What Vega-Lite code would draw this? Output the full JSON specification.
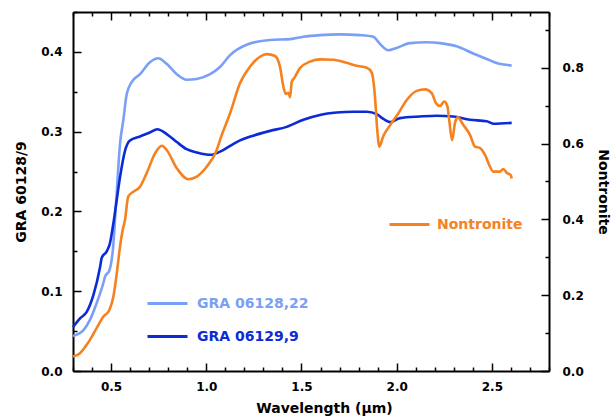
{
  "$schema": "https://vega.github.io/schema/vega-lite/v6.json",
  "width": 476,
  "height": 359,
  "autosize": {"type": "none"},
  "padding": {"left": 73, "top": 12, "right": 66, "bottom": 46},
  "background": "white",
  "config": {
    "view": {"stroke": null},
    "font": "DejaVu Sans",
    "axis": {
      "domainColor": "black",
      "domainWidth": 2,
      "tickColor": "black",
      "tickWidth": 1.5,
      "labelFont": "DejaVu Sans",
      "labelFontWeight": "bold",
      "labelFontSize": 12,
      "labelColor": "black",
      "titleFont": "DejaVu Sans",
      "titleFontWeight": "bold",
      "titleFontSize": 14,
      "titleColor": "black",
      "grid": false,
      "labelFlush": false,
      "labelOverlap": false
    },
    "legend": {
      "labelFont": "DejaVu Sans",
      "labelFontWeight": "bold",
      "labelFontSize": 14,
      "labelLimit": 300,
      "padding": 0
    }
  },
  "datasets": {
    "gra": [
      {"series": "GRA 06128,22", "wl": 0.300, "r": 0.044},
      {"series": "GRA 06128,22", "wl": 0.354, "r": 0.051},
      {"series": "GRA 06128,22", "wl": 0.389, "r": 0.064},
      {"series": "GRA 06128,22", "wl": 0.424, "r": 0.085},
      {"series": "GRA 06128,22", "wl": 0.459, "r": 0.110},
      {"series": "GRA 06128,22", "wl": 0.468, "r": 0.118},
      {"series": "GRA 06128,22", "wl": 0.491, "r": 0.126},
      {"series": "GRA 06128,22", "wl": 0.509, "r": 0.151},
      {"series": "GRA 06128,22", "wl": 0.530, "r": 0.225},
      {"series": "GRA 06128,22", "wl": 0.547, "r": 0.285},
      {"series": "GRA 06128,22", "wl": 0.564, "r": 0.314},
      {"series": "GRA 06128,22", "wl": 0.582, "r": 0.347},
      {"series": "GRA 06128,22", "wl": 0.608, "r": 0.362},
      {"series": "GRA 06128,22", "wl": 0.652, "r": 0.372},
      {"series": "GRA 06128,22", "wl": 0.704, "r": 0.387},
      {"series": "GRA 06128,22", "wl": 0.748, "r": 0.392},
      {"series": "GRA 06128,22", "wl": 0.792, "r": 0.385},
      {"series": "GRA 06128,22", "wl": 0.845, "r": 0.372},
      {"series": "GRA 06128,22", "wl": 0.897, "r": 0.365},
      {"series": "GRA 06128,22", "wl": 0.950, "r": 0.366},
      {"series": "GRA 06128,22", "wl": 1.020, "r": 0.372},
      {"series": "GRA 06128,22", "wl": 1.072, "r": 0.381},
      {"series": "GRA 06128,22", "wl": 1.125, "r": 0.396},
      {"series": "GRA 06128,22", "wl": 1.212, "r": 0.409},
      {"series": "GRA 06128,22", "wl": 1.335, "r": 0.415},
      {"series": "GRA 06128,22", "wl": 1.440, "r": 0.416},
      {"series": "GRA 06128,22", "wl": 1.510, "r": 0.419},
      {"series": "GRA 06128,22", "wl": 1.597, "r": 0.421},
      {"series": "GRA 06128,22", "wl": 1.702, "r": 0.422},
      {"series": "GRA 06128,22", "wl": 1.807, "r": 0.421},
      {"series": "GRA 06128,22", "wl": 1.877, "r": 0.419},
      {"series": "GRA 06128,22", "wl": 1.912, "r": 0.410},
      {"series": "GRA 06128,22", "wl": 1.956, "r": 0.402},
      {"series": "GRA 06128,22", "wl": 2.000, "r": 0.405},
      {"series": "GRA 06128,22", "wl": 2.070, "r": 0.411},
      {"series": "GRA 06128,22", "wl": 2.158, "r": 0.412},
      {"series": "GRA 06128,22", "wl": 2.228, "r": 0.411},
      {"series": "GRA 06128,22", "wl": 2.315, "r": 0.407},
      {"series": "GRA 06128,22", "wl": 2.402, "r": 0.398},
      {"series": "GRA 06128,22", "wl": 2.473, "r": 0.391},
      {"series": "GRA 06128,22", "wl": 2.525, "r": 0.386},
      {"series": "GRA 06128,22", "wl": 2.604, "r": 0.383},
      {"series": "GRA 06129,9", "wl": 0.300, "r": 0.055},
      {"series": "GRA 06129,9", "wl": 0.337, "r": 0.066},
      {"series": "GRA 06129,9", "wl": 0.372, "r": 0.074},
      {"series": "GRA 06129,9", "wl": 0.407, "r": 0.095},
      {"series": "GRA 06129,9", "wl": 0.442, "r": 0.130},
      {"series": "GRA 06129,9", "wl": 0.451, "r": 0.142},
      {"series": "GRA 06129,9", "wl": 0.477, "r": 0.150},
      {"series": "GRA 06129,9", "wl": 0.494, "r": 0.160},
      {"series": "GRA 06129,9", "wl": 0.512, "r": 0.185},
      {"series": "GRA 06129,9", "wl": 0.530, "r": 0.215},
      {"series": "GRA 06129,9", "wl": 0.547, "r": 0.243},
      {"series": "GRA 06129,9", "wl": 0.573, "r": 0.276},
      {"series": "GRA 06129,9", "wl": 0.599, "r": 0.289},
      {"series": "GRA 06129,9", "wl": 0.652, "r": 0.294},
      {"series": "GRA 06129,9", "wl": 0.704, "r": 0.299},
      {"series": "GRA 06129,9", "wl": 0.743, "r": 0.303},
      {"series": "GRA 06129,9", "wl": 0.792, "r": 0.297},
      {"series": "GRA 06129,9", "wl": 0.845, "r": 0.287},
      {"series": "GRA 06129,9", "wl": 0.897, "r": 0.278},
      {"series": "GRA 06129,9", "wl": 0.950, "r": 0.274},
      {"series": "GRA 06129,9", "wl": 1.020, "r": 0.271},
      {"series": "GRA 06129,9", "wl": 1.072, "r": 0.275},
      {"series": "GRA 06129,9", "wl": 1.110, "r": 0.280},
      {"series": "GRA 06129,9", "wl": 1.160, "r": 0.287},
      {"series": "GRA 06129,9", "wl": 1.247, "r": 0.295},
      {"series": "GRA 06129,9", "wl": 1.335, "r": 0.301},
      {"series": "GRA 06129,9", "wl": 1.422, "r": 0.306},
      {"series": "GRA 06129,9", "wl": 1.510, "r": 0.315},
      {"series": "GRA 06129,9", "wl": 1.597, "r": 0.321},
      {"series": "GRA 06129,9", "wl": 1.685, "r": 0.324},
      {"series": "GRA 06129,9", "wl": 1.772, "r": 0.325},
      {"series": "GRA 06129,9", "wl": 1.843, "r": 0.325},
      {"series": "GRA 06129,9", "wl": 1.895, "r": 0.322},
      {"series": "GRA 06129,9", "wl": 1.930, "r": 0.316},
      {"series": "GRA 06129,9", "wl": 1.965, "r": 0.312},
      {"series": "GRA 06129,9", "wl": 2.017, "r": 0.317},
      {"series": "GRA 06129,9", "wl": 2.122, "r": 0.319},
      {"series": "GRA 06129,9", "wl": 2.210, "r": 0.320},
      {"series": "GRA 06129,9", "wl": 2.297, "r": 0.319},
      {"series": "GRA 06129,9", "wl": 2.385, "r": 0.315},
      {"series": "GRA 06129,9", "wl": 2.473, "r": 0.313},
      {"series": "GRA 06129,9", "wl": 2.507, "r": 0.310},
      {"series": "GRA 06129,9", "wl": 2.604, "r": 0.311}
    ],
    "non": [
      {"series": "Nontronite", "wl": 0.300, "r": 0.038},
      {"series": "Nontronite", "wl": 0.337, "r": 0.047},
      {"series": "Nontronite", "wl": 0.363, "r": 0.063},
      {"series": "Nontronite", "wl": 0.389, "r": 0.082},
      {"series": "Nontronite", "wl": 0.424, "r": 0.113},
      {"series": "Nontronite", "wl": 0.459, "r": 0.143},
      {"series": "Nontronite", "wl": 0.491, "r": 0.161},
      {"series": "Nontronite", "wl": 0.512, "r": 0.196},
      {"series": "Nontronite", "wl": 0.530, "r": 0.258},
      {"series": "Nontronite", "wl": 0.547, "r": 0.328},
      {"series": "Nontronite", "wl": 0.561, "r": 0.372},
      {"series": "Nontronite", "wl": 0.573, "r": 0.398},
      {"series": "Nontronite", "wl": 0.590, "r": 0.460},
      {"series": "Nontronite", "wl": 0.617, "r": 0.473},
      {"series": "Nontronite", "wl": 0.652, "r": 0.486},
      {"series": "Nontronite", "wl": 0.687, "r": 0.522},
      {"series": "Nontronite", "wl": 0.731, "r": 0.574},
      {"series": "Nontronite", "wl": 0.766, "r": 0.594},
      {"series": "Nontronite", "wl": 0.792, "r": 0.583},
      {"series": "Nontronite", "wl": 0.845, "r": 0.535},
      {"series": "Nontronite", "wl": 0.906, "r": 0.506},
      {"series": "Nontronite", "wl": 0.950, "r": 0.513},
      {"series": "Nontronite", "wl": 1.002, "r": 0.539},
      {"series": "Nontronite", "wl": 1.055, "r": 0.583},
      {"series": "Nontronite", "wl": 1.072, "r": 0.609},
      {"series": "Nontronite", "wl": 1.125, "r": 0.680},
      {"series": "Nontronite", "wl": 1.177, "r": 0.759},
      {"series": "Nontronite", "wl": 1.230, "r": 0.803},
      {"series": "Nontronite", "wl": 1.282, "r": 0.829},
      {"series": "Nontronite", "wl": 1.317, "r": 0.836},
      {"series": "Nontronite", "wl": 1.361, "r": 0.831},
      {"series": "Nontronite", "wl": 1.387, "r": 0.803},
      {"series": "Nontronite", "wl": 1.405, "r": 0.750},
      {"series": "Nontronite", "wl": 1.417, "r": 0.731},
      {"series": "Nontronite", "wl": 1.431, "r": 0.734},
      {"series": "Nontronite", "wl": 1.440, "r": 0.722},
      {"series": "Nontronite", "wl": 1.449, "r": 0.763},
      {"series": "Nontronite", "wl": 1.461, "r": 0.772},
      {"series": "Nontronite", "wl": 1.492, "r": 0.799},
      {"series": "Nontronite", "wl": 1.545, "r": 0.816},
      {"series": "Nontronite", "wl": 1.597, "r": 0.822},
      {"series": "Nontronite", "wl": 1.667, "r": 0.821},
      {"series": "Nontronite", "wl": 1.737, "r": 0.813},
      {"series": "Nontronite", "wl": 1.790, "r": 0.805},
      {"series": "Nontronite", "wl": 1.843, "r": 0.800},
      {"series": "Nontronite", "wl": 1.869, "r": 0.787},
      {"series": "Nontronite", "wl": 1.886, "r": 0.724},
      {"series": "Nontronite", "wl": 1.898, "r": 0.636},
      {"series": "Nontronite", "wl": 1.909, "r": 0.592},
      {"series": "Nontronite", "wl": 1.930, "r": 0.620},
      {"series": "Nontronite", "wl": 1.965, "r": 0.648},
      {"series": "Nontronite", "wl": 2.009, "r": 0.680},
      {"series": "Nontronite", "wl": 2.053, "r": 0.715},
      {"series": "Nontronite", "wl": 2.105, "r": 0.739},
      {"series": "Nontronite", "wl": 2.149, "r": 0.743},
      {"series": "Nontronite", "wl": 2.184, "r": 0.733},
      {"series": "Nontronite", "wl": 2.207, "r": 0.706},
      {"series": "Nontronite", "wl": 2.228, "r": 0.699},
      {"series": "Nontronite", "wl": 2.249, "r": 0.711},
      {"series": "Nontronite", "wl": 2.266, "r": 0.699},
      {"series": "Nontronite", "wl": 2.276, "r": 0.662},
      {"series": "Nontronite", "wl": 2.291, "r": 0.609},
      {"series": "Nontronite", "wl": 2.306, "r": 0.654},
      {"series": "Nontronite", "wl": 2.320, "r": 0.669},
      {"series": "Nontronite", "wl": 2.350, "r": 0.649},
      {"series": "Nontronite", "wl": 2.385, "r": 0.623},
      {"series": "Nontronite", "wl": 2.411, "r": 0.592},
      {"series": "Nontronite", "wl": 2.438, "r": 0.588},
      {"series": "Nontronite", "wl": 2.464, "r": 0.570},
      {"series": "Nontronite", "wl": 2.490, "r": 0.539},
      {"series": "Nontronite", "wl": 2.507, "r": 0.526},
      {"series": "Nontronite", "wl": 2.543, "r": 0.526},
      {"series": "Nontronite", "wl": 2.560, "r": 0.533},
      {"series": "Nontronite", "wl": 2.578, "r": 0.523},
      {"series": "Nontronite", "wl": 2.599, "r": 0.517},
      {"series": "Nontronite", "wl": 2.604, "r": 0.508}
    ]
  },
  "layer": [
    {
      "data": {"name": "gra"},
      "mark": {"type": "line", "strokeWidth": 2.6, "interpolate": "monotone"},
      "encoding": {
        "x": {
          "field": "wl", "type": "quantitative",
          "scale": {"domain": [0.3, 2.8], "nice": false, "zero": false},
          "axis": {
            "orient": "bottom",
            "title": "Wavelength (µm)",
            "titleX": 251,
            "values": [0.3,0.4,0.5,0.6,0.7,0.8,0.9,1.0,1.1,1.2,1.3,1.4,1.5,1.6,1.7,1.8,1.9,2.0,2.1,2.2,2.3,2.4,2.5,2.6,2.7,2.8],
            "labelExpr": "abs(round(datum.value*2) - datum.value*2) < 0.001 ? format(datum.value, '.1f') : ''",
            "tickSize": {"condition": {"test": "abs(round(datum.value*2) - datum.value*2) < 0.001", "value": -8}, "value": -4},
            "labelPadding": 18,
            "titlePadding": 5
          }
        },
        "y": {
          "field": "r", "type": "quantitative",
          "scale": {"domain": [0, 0.45], "nice": false},
          "axis": {
            "orient": "left",
            "title": "GRA 60128/9",
            "values": [0,0.05,0.1,0.15,0.2,0.25,0.3,0.35,0.4,0.45],
            "labelExpr": "abs(round(datum.value*10) - datum.value*10) < 0.001 ? format(datum.value, '.1f') : ''",
            "tickSize": {"condition": {"test": "abs(round(datum.value*10) - datum.value*10) < 0.001", "value": -8}, "value": -4},
            "labelPadding": 19,
            "titlePadding": 12
          }
        },
        "color": {
          "field": "series", "type": "nominal",
          "scale": {"domain": ["GRA 06128,22", "GRA 06129,9"], "range": ["#7aa0f6", "#0b2bd6"]},
          "legend": {
            "title": null,
            "orient": "none",
            "legendX": 73,
            "legendY": 270,
            "symbolType": "stroke",
            "symbolSize": 1600,
            "symbolStrokeWidth": 3,
            "labelOffset": 8,
            "rowPadding": 4,
            "labelColor": {"expr": "datum.label == 'GRA 06128,22' ? '#7aa0f6' : '#0b2bd6'"}
          }
        }
      }
    },
    {
      "data": {"name": "non"},
      "mark": {"type": "line", "strokeWidth": 2.6, "interpolate": "monotone"},
      "encoding": {
        "x": {
          "field": "wl", "type": "quantitative",
          "axis": {
            "orient": "top",
            "title": null,
            "labels": false,
            "values": [0.3,0.4,0.5,0.6,0.7,0.8,0.9,1.0,1.1,1.2,1.3,1.4,1.5,1.6,1.7,1.8,1.9,2.0,2.1,2.2,2.3,2.4,2.5,2.6,2.7,2.8],
            "tickSize": {"condition": {"test": "abs(round(datum.value*2) - datum.value*2) < 0.001", "value": -8}, "value": -4}
          }
        },
        "y": {
          "field": "r", "type": "quantitative",
          "scale": {"domain": [0, 0.947], "nice": false},
          "axis": {
            "orient": "right",
            "title": "Nontronite",
            "titleAngle": 90,
            "values": [0,0.1,0.2,0.3,0.4,0.5,0.6,0.7,0.8,0.9],
            "labelExpr": "abs(round(datum.value*5) - datum.value*5) < 0.001 ? format(datum.value, '.1f') : ''",
            "tickSize": {"condition": {"test": "abs(round(datum.value*5) - datum.value*5) < 0.001", "value": -8}, "value": -4},
            "labelPadding": 21,
            "titlePadding": 12
          }
        },
        "color": {
          "field": "series", "type": "nominal",
          "scale": {"domain": ["Nontronite"], "range": ["#f5821f"]},
          "legend": {
            "title": null,
            "orient": "none",
            "legendX": 315,
            "legendY": 191,
            "symbolType": "stroke",
            "symbolSize": 1600,
            "symbolStrokeWidth": 3,
            "labelOffset": 6,
            "labelColor": "#f5821f"
          }
        }
      }
    }
  ],
  "resolve": {
    "scale": {"y": "independent", "color": "independent"},
    "axis": {"x": "independent", "y": "independent"},
    "legend": {"color": "independent"}
  }
}
